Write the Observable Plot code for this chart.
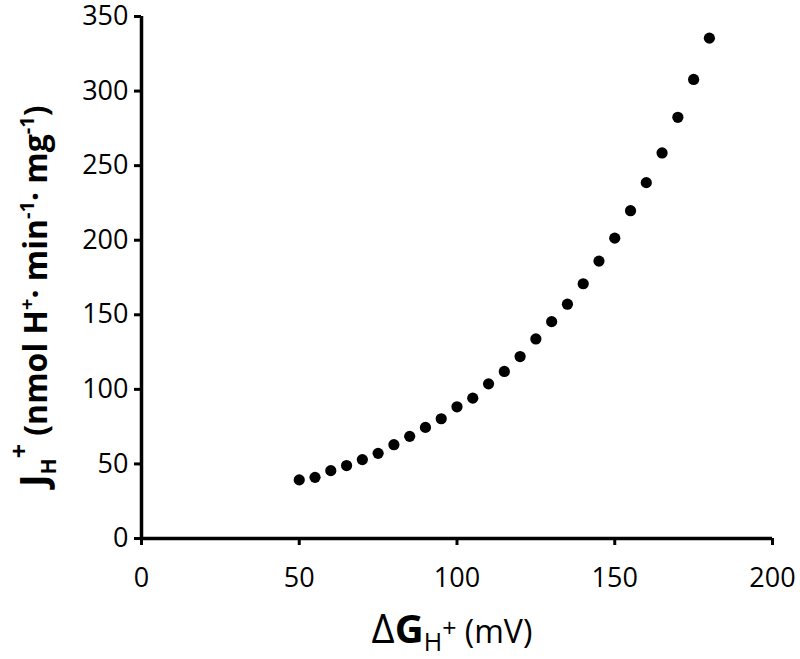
<!DOCTYPE html>
<html>
<head>
<meta charset="utf-8">
<script src="https://cdn.jsdelivr.net/npm/d3@7"></script>
<script src="https://cdn.jsdelivr.net/npm/@observablehq/plot@0.6"></script>
<style>
  html, body { margin: 0; padding: 0; background: #fff; }
  #chart { width: 800px; height: 659px; }
</style>
</head>
<body>
<div id="chart"></div>
<script>
const deltaG = [50,55,60,65,70,75,80,85,90,95,100,105,110,115,120,125,130,135,140,145,150,155,160,165,170,175,180];
const flux   = [39.3,41.0,45.5,48.9,52.9,57.1,62.9,68.5,74.5,80.3,88.3,94.1,103.7,112.0,122.0,133.8,145.4,157.1,170.8,186.0,201.4,219.8,238.6,258.5,282.4,307.8,335.5];
const xTicks = [0,50,100,150,200];
const yTicks = [0,50,100,150,200,250,300,350];

const data = deltaG.map((g, i) => ({g, j: flux[i]}));

const plot = Plot.plot({
  width: 800,
  height: 659,
  marginLeft: 141,
  marginRight: 28,
  marginTop: 16,
  marginBottom: 121,
  style: {fontFamily: "Open Sans, sans-serif", fontSize: "26px", color: "#000", background: "#fff", overflow: "visible"},
  x: {domain: [0, 200], ticks: xTicks, label: null},
  y: {domain: [0, 350], ticks: yTicks, label: null},
  marks: [
    Plot.axisX({ticks: xTicks, tickSize: 7, tickPadding: 22, tickFormat: d => d, fontSize: 27, strokeWidth: 3}),
    Plot.axisY({ticks: yTicks, tickSize: 7, tickPadding: 6, tickFormat: d => d, fontSize: 27, strokeWidth: 3}),
    Plot.ruleX([0], {stroke: "#000", strokeWidth: 3.5}),
    Plot.ruleY([0], {stroke: "#000", strokeWidth: 3.5}),
    Plot.dot(data, {x: "g", y: "j", r: 5.6, fill: "#000", stroke: "none"})
  ]
});
document.getElementById("chart").appendChild(plot);

const svg = d3.select(plot);
// Y axis label (rotated, reads bottom to top)
const yl = svg.append("text")
  .attr("transform", "translate(47,487) rotate(-90)")
  .attr("text-anchor", "start")
  .attr("font-family", "Open Sans, sans-serif")
  .attr("font-weight", "bold")
  .attr("fill", "#000");
yl.append("tspan").attr("font-size", 38).text("J");
yl.append("tspan").attr("font-size", 21).attr("dy", 9).text("H");
yl.append("tspan").attr("font-size", 25).attr("dy", -28).text("+");
yl.append("tspan").attr("font-size", 32).attr("dy", 19).text(" (nmol H");
yl.append("tspan").attr("font-size", 20).attr("dy", -13).text("+");
yl.append("tspan").attr("font-size", 32).attr("dy", 13).text("· min");
yl.append("tspan").attr("font-size", 20).attr("dy", -13).text("-1");
yl.append("tspan").attr("font-size", 32).attr("dy", 13).text("· mg");
yl.append("tspan").attr("font-size", 20).attr("dy", -13).text("-1");
yl.append("tspan").attr("font-size", 32).attr("dy", 13).text(")");

// X axis label
const xl = svg.append("text")
  .attr("x", 452).attr("y", 643)
  .attr("text-anchor", "middle")
  .attr("font-family", "Open Sans, sans-serif")
  .attr("fill", "#000");
xl.append("tspan").attr("font-size", 40).text("Δ");
xl.append("tspan").attr("font-size", 40).attr("font-weight", "bold").text("G");
xl.append("tspan").attr("font-size", 25).attr("dy", 8).text("H");
xl.append("tspan").attr("font-size", 25).attr("dy", -14).text("+");
xl.append("tspan").attr("font-size", 32).attr("dy", 6).text(" (mV)");
</script>
</body>
</html>
